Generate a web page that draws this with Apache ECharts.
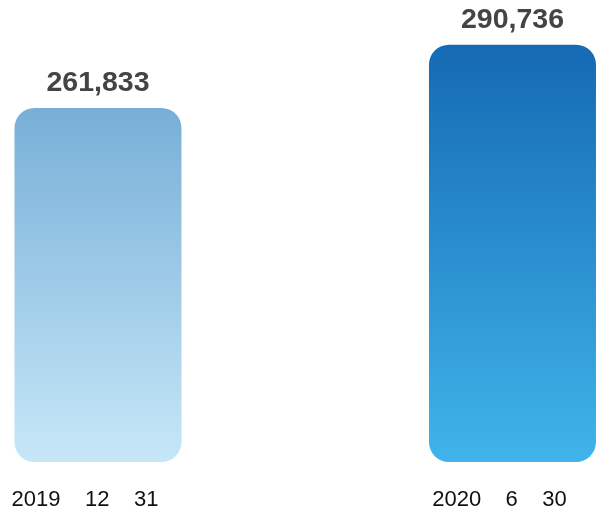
<!DOCTYPE html>
<html><head><meta charset="utf-8">
<script src="https://cdn.jsdelivr.net/npm/echarts@6/dist/echarts.min.js"></script>
<style>html,body{margin:0;padding:0;background:#fff}#c{width:597px;height:515px}</style>
</head><body><div id="c"></div>
<script>
const categories = ['2019    12    31', '2020    6    30'];
const values = [261833, 290736];
const chart = echarts.init(document.getElementById('c'));
const grads = [
  ['#78afd7', '#c6e7f8'],
  ['#156ab3', '#40b4ea']
];
chart.setOption({
  animation: false,
  grid: { left: 0, right: 0, top: 24.5, bottom: 53 },
  xAxis: {
    type: 'value', min: -0.2364, max: 1.2039,
    splitLine: { show: false },
    axisLine: { show: false }, axisTick: { show: false },
    axisLabel: {
      customValues: [0, 1],
      formatter: v => categories[Math.round(Number(v))] || '',
      color: '#111', fontSize: 22, fontFamily: 'Liberation Sans, Arial', margin: 27, padding: [0, 26, 0, 0]
    }
  },
  yAxis: { type: 'value', min: 100000, max: 300000, show: false, splitLine: { show: false } },
  series: [{
    type: 'bar', barWidth: 167,
    data: values.map((v, i) => ({
      value: [i, v],
      itemStyle: {
        borderRadius: 20,
        color: new echarts.graphic.LinearGradient(0, 0, 0, 1, [
          { offset: 0, color: grads[i][0] }, { offset: 1, color: grads[i][1] }
        ])
      }
    })),
    label: {
      show: true, position: 'top', distance: 10,
      color: '#444', fontSize: 28.5, fontWeight: 'bold', fontFamily: 'Liberation Sans, Arial',
      formatter: p => p.value[1].toLocaleString('en-US')
    }
  }]
});
</script></body></html>
